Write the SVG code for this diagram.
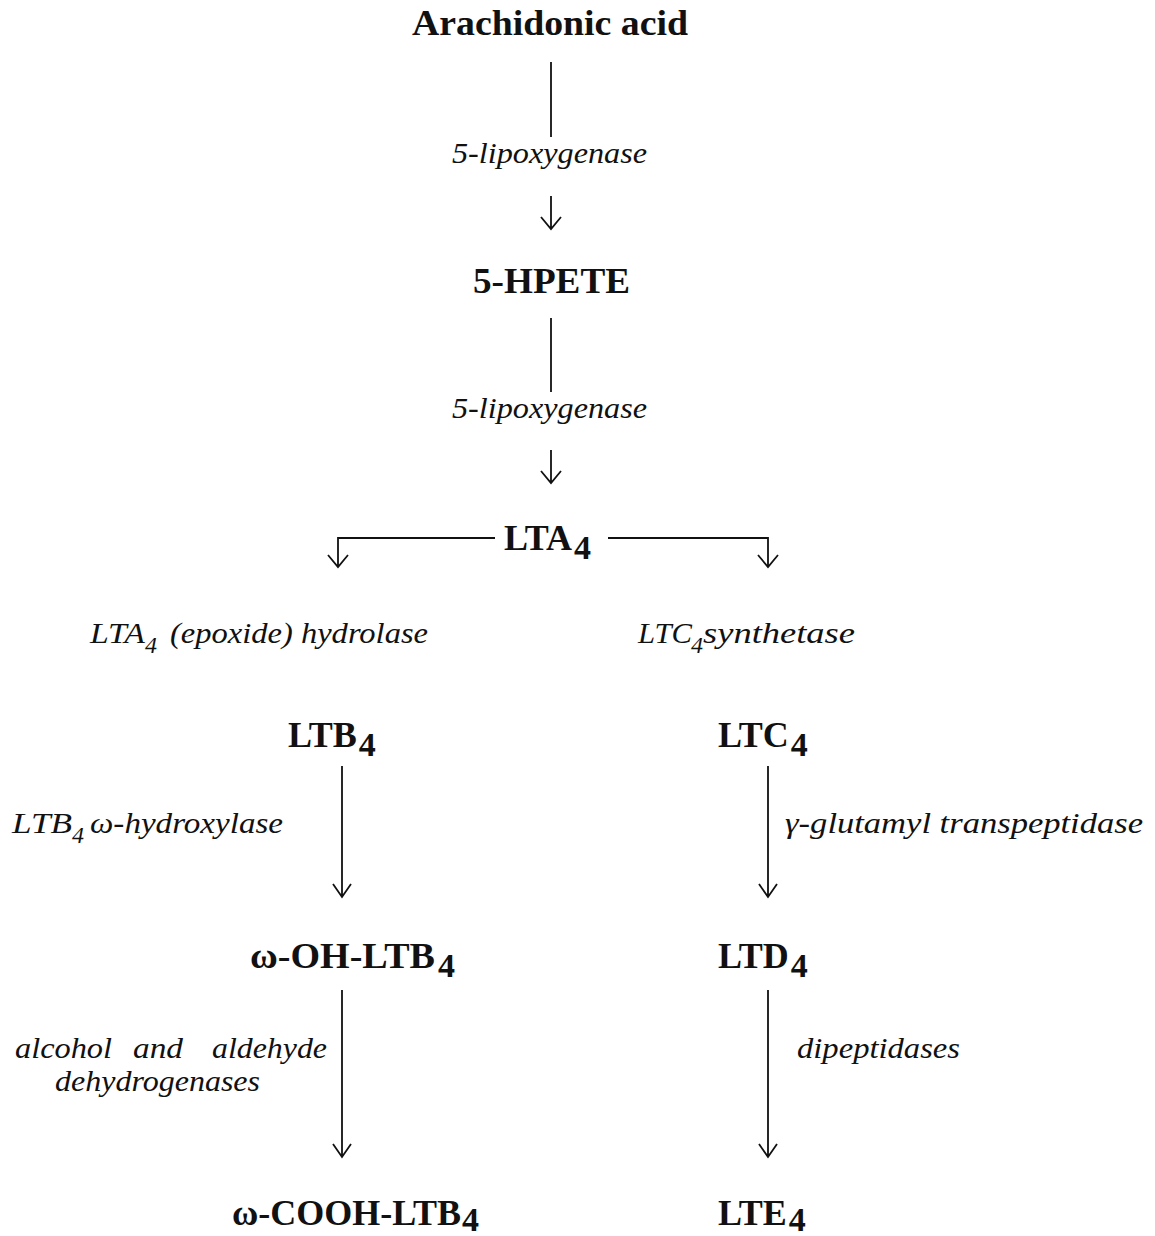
<svg xmlns="http://www.w3.org/2000/svg" width="1155" height="1236" viewBox="0 0 1155 1236">
<style>
.b{font-family:"Liberation Serif","Times New Roman",serif;font-weight:bold;font-size:36px;fill:#111}
.sub{font-size:34px}
.i{font-family:"Liberation Serif","Times New Roman",serif;font-style:italic;font-size:29px;fill:#111}
.s{font-family:"Liberation Serif","Times New Roman",serif;font-style:italic;font-size:24px;fill:#111}
.c{fill:none;stroke:#111;stroke-width:1.8}
</style>
<rect width="1155" height="1236" fill="#fff"/>
<g id="connectors">
<path class="c" d="M551 62V137"/>
<path class="c" d="M551 196V228M541 217L551 229L561 217"/>
<path class="c" d="M551 318V392"/>
<path class="c" d="M551 450V482M541 471L551 483L561 471"/>
<path class="c" d="M495 538H338V566M328 555L338 567L348 555"/>
<path class="c" d="M608 538H768V566M758 555L768 567L778 555"/>
<path class="c" d="M342 766V896M333 884L342 897L351 884"/>
<path class="c" d="M768 766V896M759 884L768 897L777 884"/>
<path class="c" d="M342 990V1156M333 1144L342 1157L351 1144"/>
<path class="c" d="M768 990V1156M759 1144L768 1157L777 1144"/>
</g>
<g id="arachidonic"><text class="b" x="412" y="35" textLength="276" lengthAdjust="spacingAndGlyphs">Arachidonic acid</text></g>
<g id="lox1"><text class="i" x="452" y="163" textLength="195" lengthAdjust="spacingAndGlyphs">5-lipoxygenase</text></g>
<g id="hpete"><text class="b" x="473" y="293" textLength="157" lengthAdjust="spacingAndGlyphs">5-HPETE</text></g>
<g id="lox2"><text class="i" x="452" y="418" textLength="195" lengthAdjust="spacingAndGlyphs">5-lipoxygenase</text></g>
<g id="lta4"><text class="b" x="504" y="550">LTA<tspan class="sub" dx="2" dy="9">4</tspan></text></g>
<g id="hydrolase">
<text class="i" x="90" y="643" textLength="55" lengthAdjust="spacingAndGlyphs">LTA</text>
<text class="s" x="145" y="653">4</text>
<text class="i" x="170" y="643" textLength="258" lengthAdjust="spacingAndGlyphs">(epoxide) hydrolase</text>
</g>
<g id="synthetase">
<text class="i" x="638" y="643" textLength="54" lengthAdjust="spacingAndGlyphs">LTC</text>
<text class="s" x="691" y="653">4</text>
<text class="i" x="703" y="643" textLength="152" lengthAdjust="spacingAndGlyphs">synthetase</text>
</g>
<g id="ltb4"><text class="b" x="288" y="747">LTB<tspan class="sub" dx="2" dy="9">4</tspan></text></g>
<g id="ltc4"><text class="b" x="718" y="747">LTC<tspan class="sub" dx="2" dy="9">4</tspan></text></g>
<g id="hydroxylase">
<text class="i" x="12" y="833" textLength="60" lengthAdjust="spacingAndGlyphs">LTB</text>
<text class="s" x="72" y="843">4</text>
<text class="i" x="90" y="833" textLength="193" lengthAdjust="spacingAndGlyphs">ω-hydroxylase</text>
</g>
<g id="ggt"><text class="i" x="785" y="833" textLength="358" lengthAdjust="spacingAndGlyphs">γ-glutamyl  transpeptidase</text></g>
<g id="ohltb4"><text class="b" x="250" y="968" textLength="185" lengthAdjust="spacingAndGlyphs">ω-OH-LTB</text><text class="b sub" x="438" y="977">4</text></g>
<g id="ltd4"><text class="b" x="718" y="968">LTD<tspan class="sub" dx="2" dy="9">4</tspan></text></g>
<g id="dehydrogenases">
<text class="i" x="15" y="1058" textLength="97" lengthAdjust="spacingAndGlyphs">alcohol</text>
<text class="i" x="133" y="1058" textLength="50" lengthAdjust="spacingAndGlyphs">and</text>
<text class="i" x="212" y="1058" textLength="115" lengthAdjust="spacingAndGlyphs">aldehyde</text>
<text class="i" x="55" y="1091" textLength="205" lengthAdjust="spacingAndGlyphs">dehydrogenases</text>
</g>
<g id="dipeptidases"><text class="i" x="797" y="1058" textLength="163" lengthAdjust="spacingAndGlyphs">dipeptidases</text></g>
<g id="coohltb4"><text class="b" x="232" y="1225">ω-COOH-LTB<tspan class="sub" dx="1" dy="6">4</tspan></text></g>
<g id="lte4"><text class="b" x="718" y="1225">LTE<tspan class="sub" dx="2" dy="6">4</tspan></text></g>
</svg>
